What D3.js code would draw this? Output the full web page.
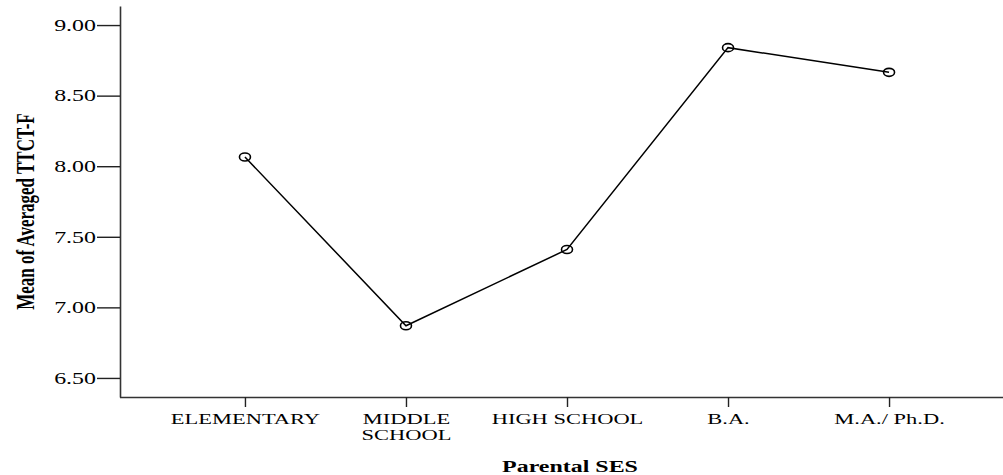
<!DOCTYPE html>
<html>
<head>
<meta charset="utf-8">
<script src="https://cdn.jsdelivr.net/npm/d3@7/dist/d3.min.js"></script>
<style>
  html, body { margin: 0; padding: 0; background: #fff; }
  svg { display: block; }
  text { font-family: "Liberation Serif", "Times New Roman", serif; fill: #000; }
</style>
</head>
<body>
<svg id="chart" width="1003" height="475"></svg>
<script>
// Mean TTCT-F score by parental socio-economic status
const categories = ["ELEMENTARY", "MIDDLE\nSCHOOL", "HIGH SCHOOL", "B.A.", "M.A./ Ph.D."];
const means = [8.065, 6.87, 7.41, 8.84, 8.665];
const yTickValues = [6.5, 7.0, 7.5, 8.0, 8.5, 9.0];
const yTitle = "Mean of Averaged TTCT-F";
const xTitle = "Parental SES";

// glyphs are drawn wider than tall, as in the original export
const SX = 1.45;

const svg = d3.select("#chart");
const mLeft = 120, mBottom = 397, mTop = 6, mRight = 1014;

const x = d3.scalePoint().domain(categories).range([mLeft, mRight]).padding(0.776);
const y = d3.scaleLinear().domain([6.365, 9.135]).range([mBottom, mTop]);

// y axis
const gy = svg.append("g").attr("transform", `translate(${mLeft},0)`)
  .call(d3.axisLeft(y).tickValues(yTickValues).tickFormat(d3.format(".2f"))
    .tickSize(23).tickSizeOuter(0).tickPadding(1));
gy.select(".domain").attr("stroke", "#333").attr("stroke-width", 1.6);
gy.selectAll(".tick line").attr("stroke", "#222").attr("stroke-width", 1.4);
gy.selectAll(".tick text")
  .attr("x", -24 / SX)
  .attr("transform", `scale(${SX},1)`)
  .attr("font-size", 16.5)
  .attr("font-family", "Liberation Serif, serif");

// x axis
const gx = svg.append("g").attr("transform", `translate(0,${mBottom})`)
  .call(d3.axisBottom(x).tickSize(10).tickSizeOuter(0).tickPadding(6));
gx.select(".domain").attr("stroke", "#333").attr("stroke-width", 1.6)
  .attr("d", `M${mLeft},0.5H${mRight}`);
gx.selectAll(".tick line").attr("stroke", "#222").attr("stroke-width", 1.4);
gx.selectAll(".tick text")
  .attr("font-size", 15.5)
  .attr("font-family", "Liberation Serif, serif")
  .attr("transform", `scale(${SX},1)`)
  .each(function(d) {
    const t = d3.select(this);
    const lines = d.split("\n");
    t.text(null);
    lines.forEach((ln, i) => {
      t.append("tspan").attr("x", 0).attr("dy", i === 0 ? "0.71em" : "1.03em").text(ln);
    });
  })
  .attr("y", 16);

// line and markers
const pts = categories.map((c, i) => [x(c), y(means[i])]);
svg.append("path")
  .datum(pts)
  .attr("fill", "none")
  .attr("stroke", "#000")
  .attr("stroke-width", 1.5)
  .attr("d", d3.line());

svg.append("g").selectAll("ellipse")
  .data(pts)
  .join("ellipse")
  .attr("cx", d => d[0])
  .attr("cy", d => d[1])
  .attr("rx", 5.5)
  .attr("ry", 4)
  .attr("fill", "none")
  .attr("stroke", "#000")
  .attr("stroke-width", 1.6);

// axis titles
svg.append("text")
  .attr("transform", `translate(34,${(mTop + mBottom) / 2 + 10}) scale(${SX},1) rotate(-90)`)
  .attr("text-anchor", "middle")
  .attr("font-size", 17)
  .attr("font-weight", "bold")
  .text(yTitle);

svg.append("text")
  .attr("transform", `translate(570,472) scale(${SX},1)`)
  .attr("text-anchor", "middle")
  .attr("font-size", 16.5)
  .attr("font-weight", "bold")
  .text(xTitle);
</script>
</body>
</html>
